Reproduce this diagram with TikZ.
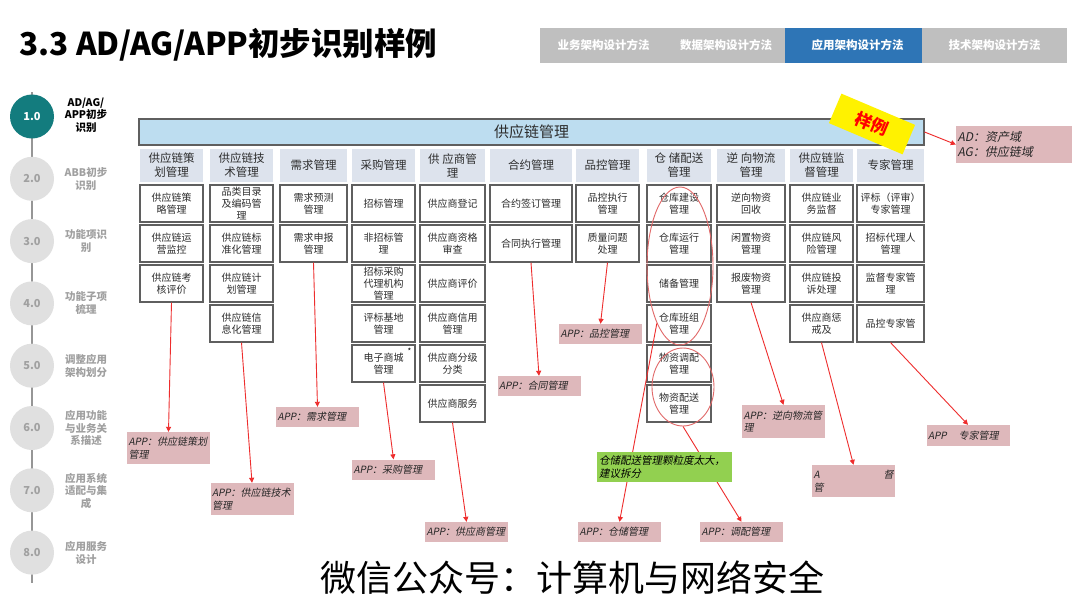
\documentclass[tikz,border=0pt]{standalone}
\usepackage{fontspec}
\setmainfont{Noto Sans CJK SC}
\newfontfamily\slantfont[FakeSlant=0.2]{Noto Sans CJK SC}
\usetikzlibrary{arrows.meta,shapes.geometric}

\definecolor{tealdot}{RGB}{19,124,126}
\definecolor{dotgray}{RGB}{224,224,224}
\definecolor{dotink}{RGB}{160,160,160}
\definecolor{railgray}{RGB}{150,150,150}
\definecolor{tabgray}{RGB}{191,191,191}
\definecolor{tabblue}{RGB}{46,117,182}
\definecolor{barblue}{RGB}{189,221,240}
\definecolor{headfill}{RGB}{221,227,237}
\definecolor{boxline}{RGB}{95,95,95}
\definecolor{cellink}{RGB}{45,45,45}
\definecolor{pinkbox}{RGB}{222,184,187}
\definecolor{notegreen}{RGB}{146,208,80}
\definecolor{arrowred}{RGB}{238,45,45}
\definecolor{ringred}{RGB}{225,105,105}

\begin{document}
\begin{tikzpicture}[x=1pt,y=-1pt,
    cell/.style={draw=boxline, line width=1.1pt, fill=white, minimum width=#1,
      minimum height=37pt, inner sep=0.5pt, align=center, text=cellink,
      font=\fontsize{10}{12}\selectfont},
    cell/.default=63pt,
    colhead/.style={fill=headfill, minimum width=#1, minimum height=33pt,
      inner sep=1pt, align=center, text=cellink, font=\fontsize{11.5}{14}\selectfont},
    colhead/.default=63pt,
    applabel/.style={fill=pinkbox, text width=80pt, inner sep=1.5pt, align=left,
      text=black!85, font=\slantfont\fontsize{10}{12.5}\selectfont},
    appline/.style={draw=arrowred, line width=0.9pt, -{Triangle[length=5pt,width=5pt]}},
    ring/.style={ellipse, draw=ringred, line width=0.9pt, inner sep=0pt},
    stepdot/.style={circle, minimum size=44pt, inner sep=0pt,
      font=\bfseries\fontsize{11}{13}\selectfont},
    steplbl/.style={align=center, text=dotink, font=\bfseries\fontsize{10.5}{12.5}\selectfont},
    tab/.style={minimum height=35pt, inner sep=0pt, text=white,
      font=\bfseries\fontsize{11.5}{14}\selectfont}]

    \useasboundingbox (0,0) rectangle (1080,608);
    \fill[white] (0,0) rectangle (1080,608);

    % ─────────── titulo y pestañas ─────────────────────────────────────
    \node[anchor=west, font=\bfseries\fontsize{31.5}{36}\selectfont] (title) at (16,45) {3.3 AD/AG/APP初步识别样例};
    \node[tab, fill=tabgray, minimum width=127pt] (tab1) at (603.5,45.5) {业务架构设计方法};
    \node[tab, fill=tabgray, minimum width=118pt] (tab2) at (726,45.5) {数据架构设计方法};
    \node[tab, fill=tabblue, minimum width=137pt] (tab3) at (853.5,45.5) {\hspace{8pt}应用架构设计方法};
    \node[tab, fill=tabgray, minimum width=145pt] (tab4) at (994.5,45.5) {技术架构设计方法};

    % ─────────── barra lateral ─────────────────────────────────────────
    \coordinate (railtop) at (32,92);
    \coordinate (railbot) at (32,583);
    \draw[railgray, line width=2pt] (railtop) -- (railbot);
    \node[stepdot, fill=tealdot, text=white] (s1) at (32,116.5) {1.0};
    \node[stepdot, fill=dotgray, text=dotink] (s2) at (32,178.8) {2.0};
    \node[stepdot, fill=dotgray, text=dotink] (s3) at (32,241.1) {3.0};
    \node[stepdot, fill=dotgray, text=dotink] (s4) at (32,303.4) {4.0};
    \node[stepdot, fill=dotgray, text=dotink] (s5) at (32,365.7) {5.0};
    \node[stepdot, fill=dotgray, text=dotink] (s6) at (32,428.0) {6.0};
    \node[stepdot, fill=dotgray, text=dotink] (s7) at (32,490.3) {7.0};
    \node[stepdot, fill=dotgray, text=dotink] (s8) at (32,552.6) {8.0};
    \node[steplbl, text=black] (t1) at (86,115) {AD/AG/\\APP初步\\识别};
    \node[steplbl] (t2) at (86,179) {ABB初步\\识别};
    \node[steplbl] (t3) at (86,241) {功能项识\\别};
    \node[steplbl] (t4) at (86,303) {功能子项\\梳理};
    \node[steplbl] (t5) at (86,366) {调整应用\\架构划分};
    \node[steplbl] (t6) at (86,428) {应用功能\\与业务关\\系描述};
    \node[steplbl] (t7) at (86,491) {应用系统\\适配与集\\成};
    \node[steplbl] (t8) at (86,553) {应用服务\\设计};

    % ─────────── AD: 供应链管理 ────────────────────────────────────────
    \node[draw=boxline, line width=1.1pt, fill=barblue, minimum width=785pt, minimum height=26pt,
      text=cellink, font=\fontsize{15}{18}\selectfont] (scm) at (531.5,132) {供应链管理};

    % ─────────── cabeceras (AG) ────────────────────────────────────────
    \node[colhead] (h1) at (171.5,165.5) {供应链策\\划管理};
    \node[colhead] (h2) at (241.5,165.5) {供应链技\\术管理};
    \node[colhead=67pt] (h3) at (313.5,165.5) {需求管理};
    \node[colhead] (h4) at (383.5,165.5) {采购管理};
    \node[colhead=65pt] (h5) at (452.5,165.5) {供 应商管\\理};
    \node[colhead=82pt] (h6) at (531,165.5) {合约管理};
    \node[colhead] (h7) at (607.5,165.5) {品控管理};
    \node[colhead=64pt] (h8) at (679,165.5) {仓 储配送\\管理};
    \node[colhead=68pt] (h9) at (751,165.5) {逆 向物流\\管理};
    \node[colhead] (h10) at (821.5,165.5) {供应链监\\督管理};
    \node[colhead=67pt] (h11) at (890.5,165.5) {专家管理};

    % ─────────── cajas por columna ─────────────────────────────────────
    \node[cell] (c1a) at (171.5,203.5) {供应链策\\略管理};
    \node[cell] (c1b) at (171.5,243.5) {供应链运\\营监控};
    \node[cell] (c1c) at (171.5,283.5) {供应链考\\核评价};

    \node[cell] (c2a) at (241.5,203.5) {品类目录\\及编码管\\理};
    \node[cell] (c2b) at (241.5,243.5) {供应链标\\准化管理};
    \node[cell] (c2c) at (241.5,283.5) {供应链计\\划管理};
    \node[cell] (c2d) at (241.5,323.5) {供应链信\\息化管理};

    \node[cell=67pt] (c3a) at (313.5,203.5) {需求预测\\管理};
    \node[cell=67pt] (c3b) at (313.5,243.5) {需求申报\\管理};

    \node[cell] (c4a) at (383.5,203.5) {招标管理};
    \node[cell] (c4b) at (383.5,243.5) {非招标管\\理};
    \node[cell] (c4c) at (383.5,283.5) {招标采购\\代理机构\\管理};
    \node[cell] (c4d) at (383.5,323.5) {评标基地\\管理};
    \node[cell] (c4e) at (383.5,363.5) {电子商城\\管理};
    \node[font=\fontsize{8}{8}\selectfont, inner sep=0pt, anchor=north east] (star) at ([xshift=-4pt,yshift=-3pt]c4e.north east) {*};

    \node[cell=65pt] (c5a) at (452.5,203.5) {供应商登记};
    \node[cell=65pt] (c5b) at (452.5,243.5) {供应商资格\\审查};
    \node[cell=65pt] (c5c) at (452.5,283.5) {供应商评价};
    \node[cell=65pt] (c5d) at (452.5,323.5) {供应商信用\\管理};
    \node[cell=65pt] (c5e) at (452.5,363.5) {供应商分级\\分类};
    \node[cell=65pt] (c5f) at (452.5,403.5) {供应商服务};

    \node[cell=82pt] (c6a) at (531,203.5) {合约签订管理};
    \node[cell=82pt] (c6b) at (531,243.5) {合同执行管理};

    \node[cell] (c7a) at (607.5,203.5) {品控执行\\管理};
    \node[cell] (c7b) at (607.5,243.5) {质量问题\\处理};

    \node[cell=64pt] (c8a) at (679,203.5) {仓库建设\\管理};
    \node[cell=64pt] (c8b) at (679,243.5) {仓库运行\\管理};
    \node[cell=64pt] (c8c) at (679,283.5) {储备管理};
    \node[cell=64pt] (c8d) at (679,323.5) {仓库班组\\管理};
    \node[cell=64pt] (c8e) at (679,363.5) {物资调配\\管理};
    \node[cell=64pt] (c8f) at (679,403.5) {物资配送\\管理};

    \node[cell=68pt] (c9a) at (751,203.5) {逆向物资\\回收};
    \node[cell=68pt] (c9b) at (751,243.5) {闲置物资\\管理};
    \node[cell=68pt] (c9c) at (751,283.5) {报废物资\\管理};

    \node[cell] (c10a) at (821.5,203.5) {供应链业\\务监督};
    \node[cell] (c10b) at (821.5,243.5) {供应链风\\险管理};
    \node[cell] (c10c) at (821.5,283.5) {供应链投\\诉处理};
    \node[cell] (c10d) at (821.5,323.5) {供应商惩\\戒及};

    \node[cell=67pt] (c11a) at (890.5,203.5) {评标（评审）\\专家管理};
    \node[cell=67pt] (c11b) at (890.5,243.5) {招标代理人\\管理};
    \node[cell=67pt] (c11c) at (890.5,283.5) {监督专家管\\理};
    \node[cell=67pt] (c11d) at (890.5,323.5) {品控专家管};

    % ─────────── circulos rojos ────────────────────────────────────────
    \node[ring, minimum width=66pt, minimum height=158pt] (ring1) at (680,266) {};
    \node[ring, minimum width=62pt, minimum height=78pt] (ring2) at (683,387) {};

    % ─────────── etiquetas APP ─────────────────────────────────────────
    \node[applabel, minimum height=32pt] (lb1) at (168.5,448) {APP：供应链策划\\管理};
    \node[applabel, minimum height=32pt] (lb2) at (252,499) {APP：供应链技术\\管理};
    \node[applabel, minimum height=20pt] (lb3) at (317.5,417) {APP：需求管理};
    \node[applabel, minimum height=20pt] (lb4) at (393.5,469.5) {APP：采购管理};
    \node[applabel, minimum height=20pt] (lb5) at (466.5,532) {APP：供应商管理};
    \node[applabel, minimum height=20pt] (lb6) at (539,386) {APP：合同管理};
    \node[applabel, minimum height=20pt] (lb7) at (600.5,334) {APP：品控管理};
    \node[applabel, minimum height=20pt] (lb8) at (619.5,532) {APP：仓储管理};
    \node[applabel, minimum height=20pt] (lb9) at (741.5,532) {APP：调配管理};
    \node[applabel, minimum height=33pt] (lb10) at (783.5,421.5) {APP：逆向物流管\\理};
    \node[applabel, minimum height=32pt] (lb11) at (853.5,481) {A\hfill 督\hspace*{6pt}\\管};
    \node[applabel, minimum height=21pt] (lb12) at (968,435.5) {APP\hspace{12pt}专家管理};
    \node[applabel, text width=113pt, minimum height=37pt, font=\slantfont\fontsize{12}{15}\selectfont] (adlb) at (1014,144.5) {AD：资产域\\AG：供应链域};

    % ─────────── flechas ───────────────────────────────────────────────
    \draw[appline] (c1c.south) -- (lb1.north);
    \draw[appline] (c2d.south) -- (lb2.north);
    \draw[appline] (c3b.south) -- (lb3.north);
    \draw[appline] (c4e.south) -- (lb4.north);
    \draw[appline] (c5f.south) -- (lb5.north);
    \draw[appline] (c6b.south) -- (lb6.north);
    \draw[appline] (c7b.south) -- (lb7.north);
    \draw[appline] (ring1.248) -- (lb8.north);
    \draw[appline] (ring2.south) -- (lb9.north);
    \draw[appline] (c9c.south) -- (lb10.north);
    \draw[appline] (c10d.south) -- (lb11.north);
    \draw[appline] (c11d.south) -- (lb12.north);
    \draw[appline] (scm.east) -- (adlb.west);

    % ─────────── nota verde y sello ────────────────────────────────────
    \node[fill=notegreen, minimum width=135pt, minimum height=30pt, text width=131pt, inner sep=2pt,
      align=left, font=\slantfont\fontsize{10.5}{13}\selectfont] (note) at (664.5,467) {仓储配送管理颗粒度太大，\\建议拆分};
    \node[fill=yellow, rotate=-23, minimum width=80pt, minimum height=32pt, text=red,
      font=\bfseries\fontsize{17}{20}\selectfont] (sample) at (872,124) {样例};

    % ─────────── pie ───────────────────────────────────────────────────
    \node[font=\fontsize{36}{40}\selectfont] (wm) at (572,578) {微信公众号：计算机与网络安全};
  \end{tikzpicture}
\end{document}
